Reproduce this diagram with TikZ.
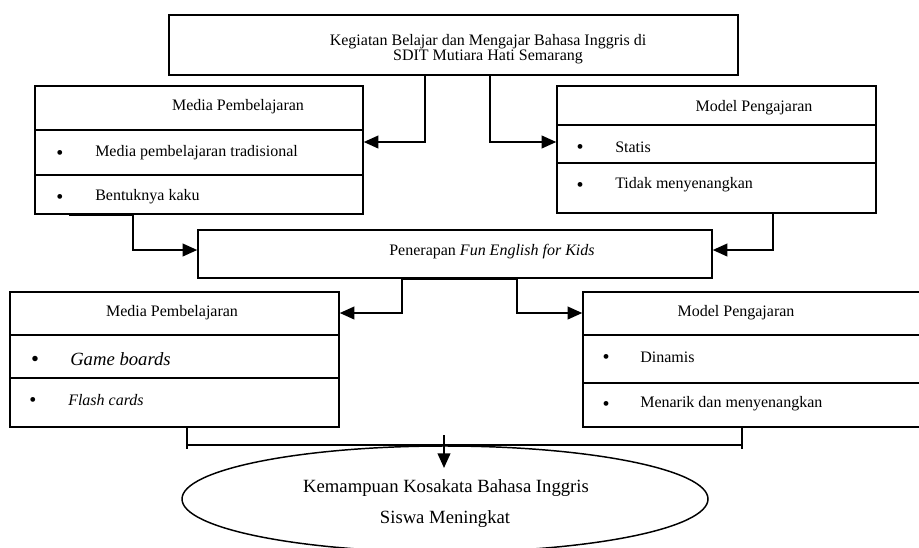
\documentclass[tikz,border=0pt]{standalone}
\usepackage{fontspec}
\setmainfont{Liberation Serif}
\usetikzlibrary{arrows.meta,shapes.geometric}
\begin{document}
\begin{tikzpicture}[x=0.75pt,y=-0.75pt,
  box/.style={draw,line width=1.1pt,inner sep=0pt},
  div/.style={line width=2pt},
  conn/.style={line width=1.5pt},
  arr/.style={conn,-{Triangle[length=11pt,width=9.5pt]}},
  txt/.style={inner sep=0pt,font=\fontsize{12}{14}\selectfont},
  big/.style={inner sep=0pt,font=\fontsize{14}{16}\selectfont},
  bul/.style={inner sep=0pt,font=\fontsize{15}{16}\selectfont},
  bigbul/.style={inner sep=0pt,font=\fontsize{17}{18}\selectfont}]
\clip (0,0) rectangle (919,547);
\fill[white] (0,0) rectangle (919,547);

% boxes
\node[box,minimum width=569*0.75pt,minimum height=60*0.75pt] (top) at (453.5,45) {};
\node[box,minimum width=328*0.75pt,minimum height=128*0.75pt] (mp1) at (199,150) {};
\node[box,minimum width=319*0.75pt,minimum height=127*0.75pt] (mo1) at (716.5,149.5) {};
\node[box,minimum width=514*0.75pt,minimum height=48*0.75pt] (pen) at (455,254) {};
\node[box,minimum width=329*0.75pt,minimum height=135*0.75pt] (mp2) at (174.5,359.5) {};
\node[box,minimum width=352*0.75pt,minimum height=135*0.75pt] (mo2) at (759,359.5) {};
\node[draw,ellipse,line width=1.1pt,inner sep=0pt,minimum width=526*0.75pt,minimum height=106*0.75pt] (ell) at (445,499) {};

% dividers
\draw[div] (35,130) -- (363,130);
\draw[div] (35,175) -- (363,175);
\draw[div] (557,125) -- (876,125);
\draw[div] (557,163) -- (876,163);
\draw[div] (10,335) -- (340,335);
\draw[div] (10,378) -- (340,378);
\draw[div] (583,335) -- (919,335);
\draw[div] (583,383) -- (919,383);

% texts
\node[txt,align=center,font=\fontsize{12}{11.5}\selectfont] (ttop) at (488,49.5) {Kegiatan Belajar dan Mengajar Bahasa Inggris di\\SDIT Mutiara Hati Semarang};

\node[txt] (h1) at (238,107) {Media Pembelajaran};
\node[bul] (b11) at (60,155) {\textbullet};
\node[txt,anchor=west] (i11) at (95,153) {Media pembelajaran tradisional};
\node[bul] (b12) at (60,199) {\textbullet};
\node[txt,anchor=west] (i12) at (95,197) {Bentuknya kaku};

\node[txt] (h2) at (754,108) {Model Pengajaran};
\node[bul] (b21) at (580,149) {\textbullet};
\node[txt,anchor=west] (i21) at (615,147) {Statis};
\node[bul] (b22) at (580,187) {\textbullet};
\node[txt,anchor=west] (i22) at (615,185) {Tidak menyenangkan};

\node[txt] (tpen) at (492,252) {Penerapan \textit{Fun English for Kids}};

\node[txt] (h3) at (172,313) {Media Pembelajaran};
\node[bigbul] (b31) at (35,361) {\textbullet};
\node[big,anchor=west] (i31) at (70,359) {\textit{Game boards}};
\node[bul] (b32) at (33,402) {\textbullet};
\node[txt,anchor=west] (i32) at (68,400) {\textit{Flash cards}};

\node[txt] (h4) at (736,313) {Model Pengajaran};
\node[bul] (b41) at (606,359) {\textbullet};
\node[txt,anchor=west] (i41) at (640,357) {Dinamis};
\node[bul] (b42) at (606,406) {\textbullet};
\node[txt,anchor=west] (i42) at (640,404) {Menarik dan menyenangkan};

\node[big] (e1) at (446,488) {Kemampuan Kosakata Bahasa Inggris};
\node[big] (e2) at (445,519) {Siswa Meningkat};

% connectors
\coordinate (a1) at (425,142);
\draw[arr] (top.south -| a1) -- (a1) -- (mp1.east |- a1);
\coordinate (a2) at (490,142);
\draw[arr] (top.south -| a2) -- (a2) -- (mo1.west |- a2);

\coordinate (a3s) at (69,214.5);
\coordinate (a3) at (133,250);
\draw[arr] (a3s) -- (a3s -| a3) -- (a3) -- (pen.west |- a3);
\coordinate (a4s) at (835,213);
\coordinate (a4) at (773,250);
\draw[arr] (a4s) -- (a4s -| a4) -- (a4) -- (pen.east |- a4);

\coordinate (b1) at (402,313);
\coordinate (b2) at (517,313);
\draw[conn] (pen.south -| b1) -- (pen.south -| b2);
\draw[arr] (pen.south -| b1) -- (b1) -- (mp2.east |- b1);
\draw[arr] (pen.south -| b2) -- (b2) -- (mo2.west |- b2);

\coordinate (c1) at (187,445);
\coordinate (c2) at (742,445);
\coordinate (c1b) at (187,449);
\coordinate (c2b) at (742,449);
\draw[conn] (mp2.south -| c1) -- (c1b);
\draw[conn] (mo2.south -| c2) -- (c2b);
\draw[conn] (c1) -- (c2);
\coordinate (d1) at (444,435);
\coordinate (d2) at (444,468);
\draw[arr] (d1) -- (d2);
\end{tikzpicture}
\end{document}
